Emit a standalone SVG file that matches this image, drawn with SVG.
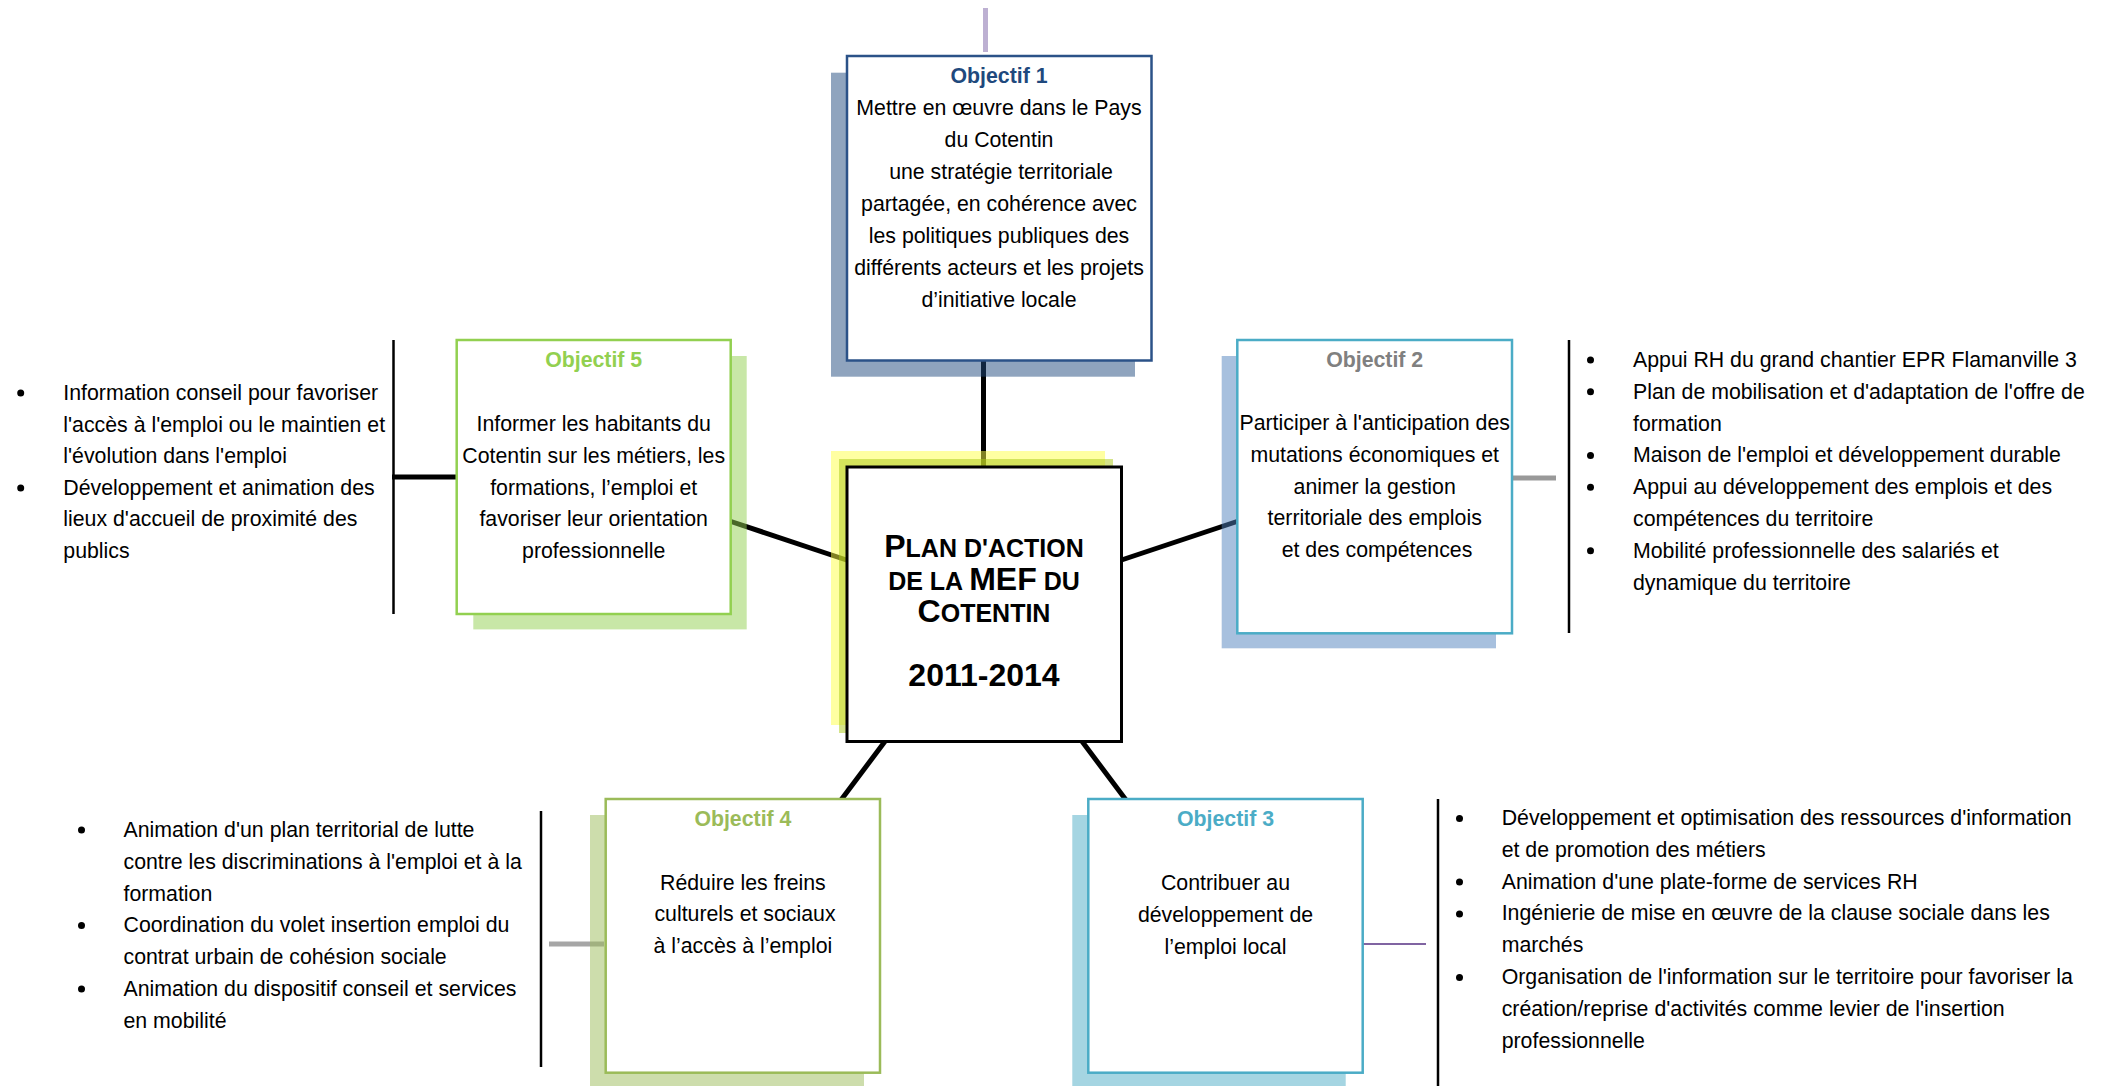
<svg xmlns="http://www.w3.org/2000/svg" width="2110" height="1086" viewBox="0 0 2110 1086">
<style>
text{font-family:"Liberation Sans",Arial,Helvetica,sans-serif;font-size:21.3px;fill:#000}
.c{text-anchor:middle}
.t{font-weight:bold}
.box{fill:#fff;stroke-width:2.5}
.sh{opacity:0.5}
.ln{stroke:#000;stroke-width:5;fill:none}
.br{stroke:#000;stroke-width:2.5;fill:none}
.bul{fill:#000}
.big{font-weight:bold;font-size:32px}
.sm{font-size:25px}
</style>
<rect width="2110" height="1086" fill="#fff"/>
<g id="connectors">
<line class="ln" x1="983.5" y1="358" x2="983.5" y2="468"/>
<line class="ln" x1="728" y1="520.5" x2="848" y2="560.5"/>
<line class="ln" x1="1120" y1="560.5" x2="1240" y2="520.5"/>
<line class="ln" x1="886" y1="740" x2="841" y2="800"/>
<line class="ln" x1="1081" y1="740" x2="1126" y2="800"/>
<line x1="985.5" y1="8" x2="985.5" y2="52" stroke="#bdb0d2" stroke-width="5"/>
<line class="ln" x1="392" y1="477" x2="457" y2="477"/>
<line x1="1512" y1="478" x2="1556" y2="478" stroke="#999" stroke-width="5"/>
<line x1="549" y1="944" x2="604" y2="944" stroke="#a6a6a6" stroke-width="5"/>
<line x1="1363" y1="944" x2="1426" y2="944" stroke="#8064a2" stroke-width="2"/>
<line class="br" x1="393.5" y1="340" x2="393.5" y2="614"/>
<line class="br" x1="1569" y1="340" x2="1569" y2="633"/>
<line class="br" x1="541" y1="811" x2="541" y2="1067"/>
<line class="br" x1="1438" y1="799" x2="1438" y2="1086"/>
</g>
<g id="center">
<rect x="831" y="451" width="274" height="274" fill="#ffff45" class="sh"/>
<rect x="839" y="459" width="274" height="274" fill="#a9c915" class="sh"/>
<rect x="847" y="467" width="274.5" height="274.5" fill="#fff" stroke="#000" stroke-width="3"/>
<text class="c t" x="984" y="557.3"><tspan class="big">P</tspan><tspan class="sm">LAN D'ACTION</tspan></text>
<text class="c t" x="984" y="589.5"><tspan class="sm">DE LA </tspan><tspan class="big">MEF</tspan><tspan class="sm"> DU</tspan></text>
<text class="c t" x="984" y="621.7"><tspan class="big">C</tspan><tspan class="sm">OTENTIN</tspan></text>
<text class="c t big" x="984" y="686">2011-2014</text>
</g>
<g id="objectif1">
<rect x="831" y="72.7" width="304" height="304" fill="#1f497d" class="sh"/>
<rect class="box" x="847" y="56" width="304.5" height="304.5" stroke="#2b5288"/>
<text class="c t" x="999" y="82.7" style="fill:#1f497d">Objectif 1</text>
<text class="c" x="999" y="115">Mettre en œuvre dans le Pays</text>
<text class="c" x="999" y="147">du Cotentin</text>
<text class="c" x="1001" y="179">une stratégie territoriale</text>
<text class="c" x="999" y="211">partagée, en cohérence avec</text>
<text class="c" x="999" y="243">les politiques publiques des</text>
<text class="c" x="999" y="275">différents acteurs et les projets</text>
<text class="c" x="999" y="307">d’initiative locale</text>
</g>
<g id="objectif5">
<rect x="473.3" y="356" width="273.4" height="273.4" fill="#92d050" class="sh"/>
<rect class="box" x="456.7" y="340" width="274" height="274" stroke="#92d050"/>
<text class="c t" x="593.7" y="366.7" style="fill:#92d050">Objectif 5</text>
<text class="c" x="593.7" y="431">Informer les habitants du</text>
<text class="c" x="593.7" y="462.8">Cotentin sur les métiers, les</text>
<text class="c" x="593.7" y="494.6">formations, l’emploi et</text>
<text class="c" x="593.7" y="526.4">favoriser leur orientation</text>
<text class="c" x="593.7" y="558.2">professionnelle</text>
</g>
<g id="objectif2">
<rect x="1221.7" y="356" width="274.3" height="292.3" fill="#4f81bd" class="sh"/>
<rect class="box" x="1237.3" y="340" width="274.7" height="293.3" stroke="#4bacc6"/>
<text class="c t" x="1374.7" y="366.7" style="fill:#808080">Objectif 2</text>
<text class="c" x="1374.7" y="430">Participer à l'anticipation des</text>
<text class="c" x="1374.7" y="461.8">mutations économiques et</text>
<text class="c" x="1374.7" y="493.6">animer la gestion</text>
<text class="c" x="1374.7" y="525.4">territoriale des emplois</text>
<text class="c" x="1377" y="557.2">et des compétences</text>
</g>
<g id="objectif4">
<rect x="590" y="815" width="274" height="271" fill="#9bbb59" class="sh"/>
<rect class="box" x="605.7" y="799" width="274.3" height="273.7" stroke="#9bbb59"/>
<text class="c t" x="742.9" y="826" style="fill:#9bbb59">Objectif 4</text>
<text class="c" x="742.9" y="889.5">Réduire les freins</text>
<text class="c" x="745" y="921.3">culturels et sociaux</text>
<text class="c" x="742.9" y="953.1">à l’accès à l’emploi</text>
</g>
<g id="objectif3">
<rect x="1072.3" y="815" width="273.4" height="271" fill="#4bacc6" class="sh"/>
<rect class="box" x="1088.3" y="799" width="274.4" height="273.7" stroke="#4bacc6"/>
<text class="c t" x="1225.5" y="826" style="fill:#4bacc6">Objectif 3</text>
<text class="c" x="1225.5" y="890">Contribuer au</text>
<text class="c" x="1225.5" y="921.8">développement de</text>
<text class="c" x="1225.5" y="953.6">l’emploi local</text>
</g>
<g id="actions5">
<circle class="bul" cx="20.7" cy="393" r="3.5"/>
<circle class="bul" cx="20.7" cy="488" r="3.5"/>
<text x="63.3" y="400">Information conseil pour favoriser</text>
<text x="63.3" y="431.6">l'accès à l'emploi ou le maintien et</text>
<text x="63.3" y="463.2">l'évolution dans l'emploi</text>
<text x="63.3" y="494.8">Développement et animation des</text>
<text x="63.3" y="526.4">lieux d'accueil de proximité des</text>
<text x="63.3" y="558">publics</text>
</g>
<g id="actions2">
<circle class="bul" cx="1590.5" cy="360" r="3.5"/>
<circle class="bul" cx="1590.5" cy="391.8" r="3.5"/>
<circle class="bul" cx="1590.5" cy="455.4" r="3.5"/>
<circle class="bul" cx="1590.5" cy="487.2" r="3.5"/>
<circle class="bul" cx="1590.5" cy="550.8" r="3.5"/>
<text x="1633" y="367">Appui RH du grand chantier EPR Flamanville 3</text>
<text x="1633" y="398.8">Plan de mobilisation et d'adaptation de l'offre de</text>
<text x="1633" y="430.6">formation</text>
<text x="1633" y="462.4">Maison de l'emploi et développement durable</text>
<text x="1633" y="494.2">Appui au développement des emplois et des</text>
<text x="1633" y="526">compétences du territoire</text>
<text x="1633" y="557.8">Mobilité professionnelle des salariés et</text>
<text x="1633" y="589.6">dynamique du territoire</text>
</g>
<g id="actions4">
<circle class="bul" cx="81.5" cy="830" r="3.5"/>
<circle class="bul" cx="81.5" cy="925.4" r="3.5"/>
<circle class="bul" cx="81.5" cy="989" r="3.5"/>
<text x="123.5" y="837">Animation d'un plan territorial de lutte</text>
<text x="123.5" y="868.8">contre les discriminations à l'emploi et à la</text>
<text x="123.5" y="900.6">formation</text>
<text x="123.5" y="932.4">Coordination du volet insertion emploi du</text>
<text x="123.5" y="964.2">contrat urbain de cohésion sociale</text>
<text x="123.5" y="996">Animation du dispositif conseil et services</text>
<text x="123.5" y="1027.8">en mobilité</text>
</g>
<g id="actions3">
<circle class="bul" cx="1459.5" cy="818.5" r="3.5"/>
<circle class="bul" cx="1459.5" cy="882.1" r="3.5"/>
<circle class="bul" cx="1459.5" cy="913.9" r="3.5"/>
<circle class="bul" cx="1459.5" cy="977.5" r="3.5"/>
<text x="1501.7" y="825">Développement et optimisation des ressources d'information</text>
<text x="1501.7" y="856.8">et de promotion des métiers</text>
<text x="1501.7" y="888.6">Animation d'une plate-forme de services RH</text>
<text x="1501.7" y="920.4">Ingénierie de mise en œuvre de la clause sociale dans les</text>
<text x="1501.7" y="952.2">marchés</text>
<text x="1501.7" y="984">Organisation de l'information sur le territoire pour favoriser la</text>
<text x="1501.7" y="1015.8">création/reprise d'activités comme levier de l'insertion</text>
<text x="1501.7" y="1047.6">professionnelle</text>
</g>
</svg>
